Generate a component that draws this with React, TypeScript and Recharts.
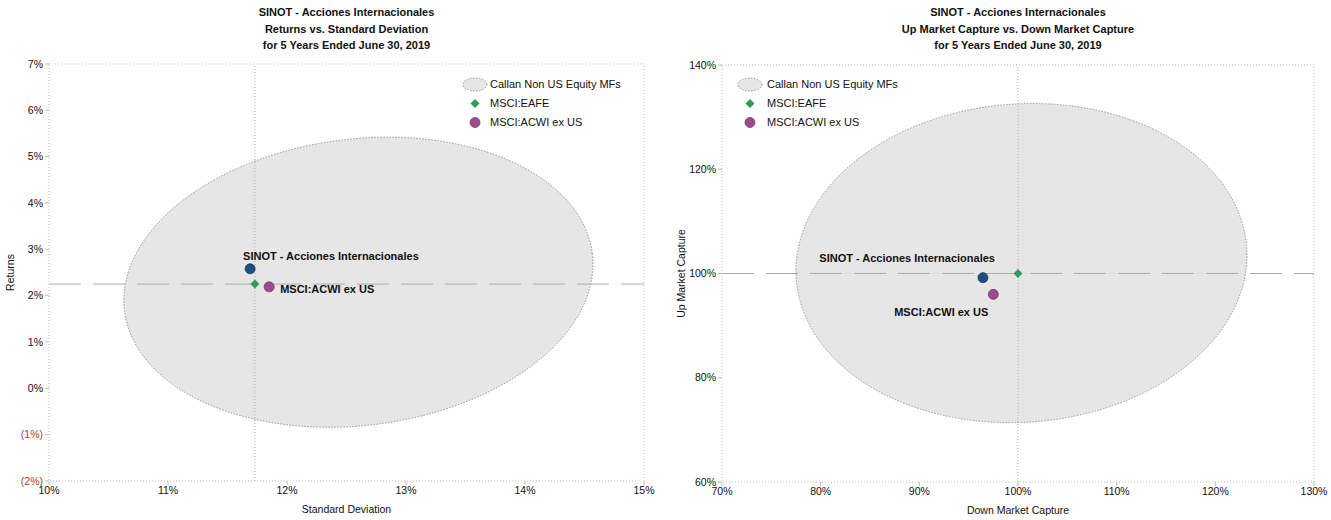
import React from 'react';
import { ScatterChart, Scatter, XAxis, YAxis, ReferenceArea, ReferenceLine, Legend } from 'recharts';

const FONT = '"Liberation Sans", Arial, Helvetica, sans-serif';

// series shared by both charts
const seriesNames = ['SINOT - Acciones Internacionales', 'MSCI:EAFE', 'MSCI:ACWI ex US'];
const universeName = 'Callan Non US Equity MFs';

// Returns vs. Standard Deviation
const rsStdDev = [11.69, 11.73, 11.85];
const rsReturns = [2.58, 2.25, 2.19];
const rsUniverseX = [10.62, 14.58];
const rsUniverseY = [-0.8, 5.38];
const rsMedian = [11.73, 2.25];
const rsXTicks = [10, 11, 12, 13, 14, 15];
const rsYTicks = [-2, -1, 0, 1, 2, 3, 4, 5, 6, 7];

// Up Market Capture vs. Down Market Capture
const udDown = [96.45, 100, 97.5];
const udUp = [99.2, 100, 96.0];
const udUniverseX = [77.47, 123.23];
const udUniverseY = [71.46, 132.54];
const udMedian = [100, 100];
const udXTicks = [70, 80, 90, 100, 110, 120, 130];
const udYTicks = [60, 80, 100, 120, 140];

const markers = [
  { kind: 'circle', fill: '#1f4f7e', stroke: '#15375a' },
  { kind: 'diamond', fill: '#2f9a5a', stroke: '#2f9a5a' },
  { kind: 'circle', fill: '#9c4c8e', stroke: '#7a386e' },
];

const renderMarker = (i: number, cx: number, cy: number) => {
  const m = markers[i];
  if (m.kind === 'diamond') {
    const r = 4.5;
    return <path d={`M${cx},${cy - r}L${cx + r},${cy}L${cx},${cy + r}L${cx - r},${cy}Z`} fill={m.fill} />;
  }
  return <circle cx={cx} cy={cy} r={5} fill={m.fill} stroke={m.stroke} strokeWidth={0.8} />;
};

const EllipseShape = (rotate: number) => (props: any) => {
  const { x, y, width, height } = props;
  const cx = x + width / 2;
  const cy = y + height / 2;
  return (
    <ellipse
      cx={cx}
      cy={cy}
      rx={Math.abs(width) / 2}
      ry={Math.abs(height) / 2}
      transform={`rotate(${rotate} ${cx} ${cy})`}
      fill="#e6e6e6"
      stroke="#8c8c8c"
      strokeWidth={0.9}
      strokeDasharray="1.5 1.5"
    />
  );
};

const LegendBox = ({ textLeft }: { textLeft: number }) => (
  <div style={{ fontFamily: FONT, fontSize: 11, color: '#111', lineHeight: '19px' }}>
    {[universeName, seriesNames[1], seriesNames[2]].map((name, i) => (
      <div key={name} style={{ display: 'flex', alignItems: 'center', height: 19 }}>
        <svg width={textLeft} height={19}>
          {i === 0 ? (
            <ellipse cx={textLeft / 2 - 1} cy={9.5} rx={12} ry={6.5} fill="#e6e6e6" stroke="#8c8c8c" strokeWidth={0.9} strokeDasharray="1.5 1.5" />
          ) : (
            renderMarker(i, textLeft / 2 - 1, 9.5)
          )}
        </svg>
        <span>{name}</span>
      </div>
    ))}
  </div>
);

const pct = (v: number) => `${v}%`;

const YTick = (props: any) => {
  const { x, y, payload } = props;
  const v = payload.value;
  const neg = v < 0;
  return (
    <text x={x} y={y} dy="0.35em" textAnchor="end" fontFamily={FONT} fontSize={10.5} fill={neg ? '#b0401c' : '#111'}>
      {neg ? `(${Math.abs(v)}%)` : `${v}%`}
    </text>
  );
};

type LabelPos = { dx: number; dy: number; anchor: 'start' | 'end' } | null;

type PanelProps = {
  left: number;
  width: number;
  yAxisWidth: number;
  marginTop: number;
  marginRight: number;
  xAxisHeight: number;
  titleLine2: string;
  xLabel: string;
  yLabel: string;
  xs: number[];
  ys: number[];
  uniX: number[];
  uniY: number[];
  median: number[];
  xTicks: number[];
  yTicks: number[];
  rotate: number;
  labelPos: LabelPos[];
  legendLeft: number;
  legendTop: number;
  legendTextLeft: number;
};

const Panel = (p: PanelProps) => {
  const plotLeft = p.left + p.yAxisWidth;
  const plotWidth = p.width - p.yAxisWidth - p.marginRight;
  const xDom = [p.xTicks[0], p.xTicks[p.xTicks.length - 1]];
  const yDom = [p.yTicks[0], p.yTicks[p.yTicks.length - 1]];
  return (
    <>
      <div
        style={{
          position: 'absolute',
          left: plotLeft,
          top: 4,
          width: plotWidth,
          textAlign: 'center',
          fontFamily: FONT,
          fontWeight: 'bold',
          fontSize: 11,
          lineHeight: '16.5px',
          color: '#111',
        }}
      >
        <div>{seriesNames[0]}</div>
        <div>{p.titleLine2}</div>
        <div>for 5 Years Ended June 30, 2019</div>
      </div>
      <div style={{ position: 'absolute', left: p.left, top: 0 }}>
        <ScatterChart width={p.width} height={520} margin={{ top: p.marginTop, right: p.marginRight, bottom: 0, left: 0 }}>
          <XAxis
            type="number"
            dataKey="x"
            domain={xDom}
            ticks={p.xTicks}
            tickFormatter={pct}
            height={p.xAxisHeight}
            axisLine={false}
            tickLine={{ stroke: '#bbb' }}
            tickSize={4}
            tick={{ fontFamily: FONT, fontSize: 10.5, fill: '#111' }}
            allowDataOverflow
            label={(lp: any) => {
              const vb = lp.viewBox;
              return (
                <text x={vb.x + vb.width / 2} y={vb.y + 28} dy="0.35em" textAnchor="middle" fontFamily={FONT} fontSize={10.5} fill="#111">
                  {p.xLabel}
                </text>
              );
            }}
          />
          <YAxis
            type="number"
            dataKey="y"
            domain={yDom}
            ticks={p.yTicks}
            width={p.yAxisWidth}
            axisLine={false}
            tickLine={{ stroke: '#bbb' }}
            tickSize={4}
            tick={<YTick />}
            allowDataOverflow
            label={(lp: any) => {
              const vb = lp.viewBox;
              const lx = vb.x + (p.left === 0 ? 10 : 16);
              const ly = vb.y + vb.height / 2;
              return (
                <text x={lx} y={ly} dy="0.35em" textAnchor="middle" transform={`rotate(-90 ${lx} ${ly})`} fontFamily={FONT} fontSize={10.5} fill="#111">
                  {p.yLabel}
                </text>
              );
            }}
          />
          <ReferenceArea
            x1={xDom[0]}
            x2={xDom[1]}
            y1={yDom[0]}
            y2={yDom[1]}
            fill="none"
            fillOpacity={0}
            stroke="#bdbdbd"
            strokeDasharray="1 2"
          />
          <ReferenceArea
            x1={p.uniX[0]}
            x2={p.uniX[1]}
            y1={p.uniY[0]}
            y2={p.uniY[1]}
            shape={EllipseShape(p.rotate)}
          />
          <ReferenceLine x={p.median[0]} stroke="#aaaaaa" strokeDasharray="1 2" />
          <ReferenceLine y={p.median[1]} stroke="#ababab" strokeDasharray="32 12" />
          {seriesNames.map((name, i) => (
            <Scatter
              key={name}
              name={name}
              data={[{ x: p.xs[i], y: p.ys[i] }]}
              isAnimationActive={false}
              shape={(sp: any) => {
                const lab = p.labelPos[i];
                return (
                  <g>
                    {renderMarker(i, sp.cx, sp.cy)}
                    {lab && (
                      <text
                        x={sp.cx + lab.dx}
                        y={sp.cy + lab.dy}
                        dy="0.35em"
                        textAnchor={lab.anchor}
                        fontFamily={FONT}
                        fontWeight="bold"
                        fontSize={11}
                        fill="#111"
                      >
                        {name}
                      </text>
                    )}
                  </g>
                );
              }}
            />
          ))}
          <Legend
            layout="vertical"
            align="center"
            verticalAlign="middle"
            wrapperStyle={{ top: p.legendTop, left: p.legendLeft, width: 'auto', height: 'auto' }}
            content={() => <LegendBox textLeft={p.legendTextLeft} />}
          />
        </ScatterChart>
      </div>
    </>
  );
};

export default function App() {
  return (
    <div style={{ position: 'absolute', left: 0, top: 0, width: 1331, height: 520, background: '#fff', overflow: 'hidden' }}>
      <Panel
        left={0}
        width={665}
        yAxisWidth={49}
        marginTop={64}
        marginRight={21}
        xAxisHeight={39}
        titleLine2="Returns vs. Standard Deviation"
        xLabel="Standard Deviation"
        yLabel="Returns"
        xs={rsStdDev}
        ys={rsReturns}
        uniX={rsUniverseX}
        uniY={rsUniverseY}
        median={rsMedian}
        xTicks={rsXTicks}
        yTicks={rsYTicks}
        rotate={-7}
        labelPos={[{ dx: -7, dy: -13, anchor: 'start' }, null, { dx: 11, dy: 2, anchor: 'start' }]}
        legendLeft={462}
        legendTop={75}
        legendTextLeft={28}
      />
      <Panel
        left={665}
        width={666}
        yAxisWidth={57}
        marginTop={65}
        marginRight={17}
        xAxisHeight={38}
        titleLine2="Up Market Capture vs. Down Market Capture"
        xLabel="Down Market Capture"
        yLabel="Up Market Capture"
        xs={udDown}
        ys={udUp}
        uniX={udUniverseX}
        uniY={udUniverseY}
        median={udMedian}
        xTicks={udXTicks}
        yTicks={udYTicks}
        rotate={-4}
        labelPos={[{ dx: 12, dy: -20, anchor: 'end' }, null, { dx: -5, dy: 18, anchor: 'end' }]}
        legendLeft={70}
        legendTop={75}
        legendTextLeft={32}
      />
    </div>
  );
}
